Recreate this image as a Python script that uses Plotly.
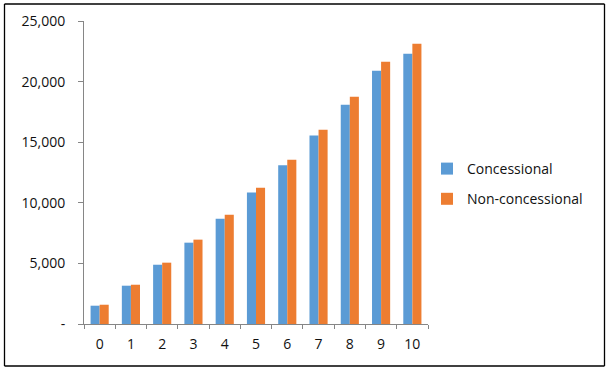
import plotly.graph_objects as go

categories = ["0", "1", "2", "3", "4", "5", "6", "7", "8", "9", "10"]
concessional = [1510, 3160, 4890, 6710, 8690, 10860, 13090, 15560, 18090, 20900, 22300]
non_concessional = [1590, 3240, 5060, 6960, 9020, 11250, 13560, 16030, 18750, 21640, 23130]
y_tickvals = [0, 5000, 10000, 15000, 20000, 25000]
y_ticktext = ["-", "5,000", "10,000", "15,000", "20,000", "25,000"]

FONT = "Open Sans"
TXT = "#111111"

fig = go.Figure()
fig.add_trace(go.Bar(x=categories, y=concessional, name="Concessional",
                     marker=dict(color="#5B9BD5", line=dict(width=0)), legendgroup="a"))
fig.add_trace(go.Bar(x=categories, y=non_concessional, name="Non-concessional",
                     marker=dict(color="#ED7D31", line=dict(width=0)), legendgroup="b"))

L, R, T, B = 84, 179, 21, 46
W, H = 607, 370
pw = W - L - R
ph = H - T - B


def px_x(p):
    return (p - L) / pw


def px_y(p):
    return (H - B - p) / ph


bx0, bx1, by0, by1 = 4.5, 604.5, 4.0, 366.0
border = dict(color="black", width=1.3)
shapes = [
    dict(type="line", xref="paper", yref="paper", x0=px_x(bx0), x1=px_x(bx1), y0=px_y(by0), y1=px_y(by0), line=border),
    dict(type="line", xref="paper", yref="paper", x0=px_x(bx0), x1=px_x(bx1), y0=px_y(by1), y1=px_y(by1), line=border),
    dict(type="line", xref="paper", yref="paper", x0=px_x(bx0), x1=px_x(bx0), y0=px_y(by0), y1=px_y(by1), line=border),
    dict(type="line", xref="paper", yref="paper", x0=px_x(bx1), x1=px_x(bx1), y0=px_y(by0), y1=px_y(by1), line=border),
]

fig.update_layout(
    width=W, height=H,
    margin=dict(l=L, r=R, t=T, b=B, autoexpand=False),
    paper_bgcolor="white", plot_bgcolor="white",
    barmode="group", bargap=0.42, bargroupgap=0,
    font=dict(family=FONT, size=14, color=TXT),
    showlegend=True,
    legend=dict(x=(427 - L) / pw, y=(324 - 184) / ph, xanchor="left", yanchor="middle",
                traceorder="grouped", tracegroupgap=9,
                font=dict(family=FONT, size=14, color=TXT),
                itemwidth=30, bgcolor="rgba(0,0,0,0)"),
    xaxis=dict(type="category", showgrid=False, showline=True, linecolor="#868686", linewidth=1,
               ticks="outside", ticklen=4, tickcolor="#868686", tickson="boundaries",
               ticklabelstandoff=7, automargin=False,
               tickfont=dict(family=FONT, size=14, color=TXT)),
    yaxis=dict(range=[0, 25000], showgrid=False, showline=True, linecolor="#868686", linewidth=1,
               ticks="outside", ticklen=5, tickcolor="#868686", automargin=False,
               tickvals=y_tickvals, ticktext=y_ticktext, ticklabelstandoff=10,
               tickfont=dict(family=FONT, size=14, color=TXT)),
    shapes=shapes,
)

fig.write_html("out.html", config={"displayModeBar": False},
               post_script="document.body.style.margin='0';document.body.style.overflow='hidden';")
